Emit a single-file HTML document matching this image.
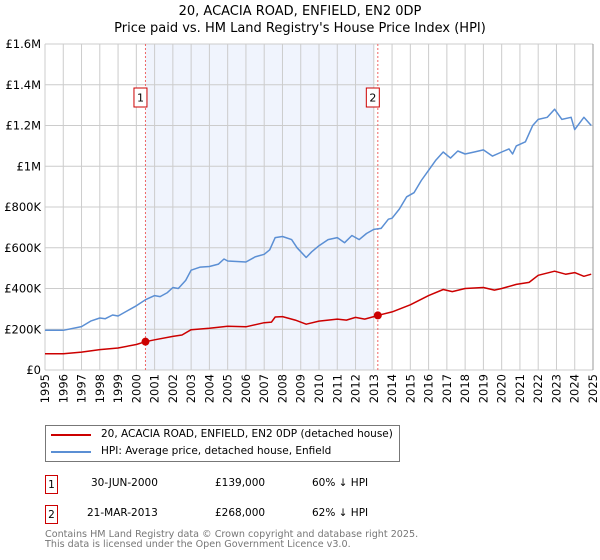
<!DOCTYPE html>
<html><head><meta charset="utf-8"><style>
body{margin:0;background:#fff;font-family:"DejaVu Sans","Liberation Sans",sans-serif;}
#wrap{position:relative;width:600px;height:560px;overflow:hidden}
.t{position:absolute;font-size:10.5px;color:#000;white-space:nowrap}
.box{position:absolute;border:1px solid #c00;width:13px;height:19px;font-size:10.5px;text-align:center;line-height:19px;box-sizing:border-box}
</style></head><body>
<div id="wrap">
<svg id="chart" width="600" height="420" style="position:absolute;left:0;top:0"></svg>
<div style="position:absolute;left:45px;top:425px;width:355px;height:37px;border:1px solid #777;box-sizing:border-box">
  <div style="position:absolute;left:5px;top:8px;width:40px;height:2px;background:#c00"></div>
  <div class="t" style="left:55px;top:2px">20, ACACIA ROAD, ENFIELD, EN2 0DP (detached house)</div>
  <div style="position:absolute;left:5px;top:25px;width:40px;height:2px;background:#5b8fd4"></div>
  <div class="t" style="left:55px;top:19px">HPI: Average price, detached house, Enfield</div>
</div>
<div class="box" style="left:45px;top:475px">1</div>
<div class="t" style="left:91px;top:477px">30-JUN-2000</div>
<div class="t" style="left:215px;top:477px">£139,000</div>
<div class="t" style="left:312px;top:477px">60% ↓ HPI</div>
<div class="box" style="left:45px;top:505px">2</div>
<div class="t" style="left:87px;top:507px">21-MAR-2013</div>
<div class="t" style="left:215px;top:507px">£268,000</div>
<div class="t" style="left:312px;top:507px">62% ↓ HPI</div>
<div class="t" style="left:45px;top:530px;color:#777;font-size:9.6px;line-height:10px">Contains HM Land Registry data © Crown copyright and database right 2025.<br>This data is licensed under the Open Government Licence v3.0.</div>
</div>
<script>
const hpiYears=[1995,1996,1997,1997.5,1998,1998.3,1998.7,1999,1999.5,2000,2000.5,2001,2001.3,2001.7,2002,2002.3,2002.7,2003,2003.5,2004,2004.5,2004.8,2005,2006,2006.5,2007,2007.3,2007.6,2008,2008.5,2008.8,2009.3,2009.6,2010,2010.5,2011,2011.4,2011.8,2012.2,2012.6,2013,2013.4,2013.8,2014,2014.4,2014.8,2015.2,2015.6,2016,2016.4,2016.8,2017.2,2017.6,2018,2018.5,2019,2019.5,2020,2020.4,2020.6,2020.8,2021.3,2021.7,2022,2022.5,2022.9,2023.3,2023.8,2024,2024.5,2024.9];
const hpiValues=[195,195,213,240,255,252,270,265,290,315,345,365,360,380,405,400,440,490,505,508,520,545,535,530,555,568,590,650,655,640,600,552,580,610,640,650,625,660,640,670,690,695,740,745,790,850,870,930,980,1030,1070,1040,1075,1060,1070,1080,1050,1070,1085,1060,1100,1120,1200,1230,1240,1280,1230,1240,1180,1240,1200];
const ppYears=[1995,1996,1997,1998,1999,2000,2000.5,2001,2002,2002.5,2003,2004,2005,2006,2007,2007.4,2007.6,2008,2008.7,2009.3,2010,2011,2011.5,2012,2012.5,2013,2013.22,2014,2015,2016,2016.8,2017.3,2018,2019,2019.6,2020,2020.8,2021.5,2022,2022.9,2023.5,2024,2024.5,2024.9];
const ppValues=[80,80,88,100,108,125,139,148,165,172,198,205,215,212,232,235,260,262,245,225,240,250,245,258,250,262,268,285,320,365,395,385,400,405,392,400,420,430,465,485,470,478,460,470];
const yTicks=[0,200,400,600,800,1000,1200,1400,1600];
const yTickLabels=["£0","£200K","£400K","£600K","£800K","£1M","£1.2M","£1.4M","£1.6M"];
const xYears=[];for(let y=1995;y<=2025;y++)xYears.push(y);
const sales=[{n:"1",year:2000.5,value:139},{n:"2",year:2013.22,value:268}];
const shade=[2000.5,2013.0];

const svg=document.getElementById('chart');const NS='http://www.w3.org/2000/svg';
const L=45,R=593,T=44,B=370;
const xs=y=>L+(y-1995)/30*(R-L);
const ys=v=>B-v/1600*(B-T);
function mk(t,a){const e=document.createElementNS(NS,t);for(const k in a)e.setAttribute(k,a[k]);svg.appendChild(e);return e;}
let e=mk('rect',{x:xs(shade[0]),y:T,width:xs(shade[1])-xs(shade[0]),height:B-T,fill:'#f0f4fd'});


xYears.forEach(y=>{let g=mk('line',{x1:xs(y),x2:xs(y),y1:T,y2:B,stroke:'#ccc','stroke-width':1});


let t=mk('text',{x:0,y:0,transform:`translate(${xs(y)+4},${B+4}) rotate(-90)`,'text-anchor':'end','font-size':11.5,'font-family':'DejaVu Sans, Liberation Sans, sans-serif'});t.textContent=y;

});
yTicks.forEach((v,i)=>{let g=mk('line',{x1:L,x2:R,y1:ys(v),y2:ys(v),stroke:'#ccc','stroke-width':1});


let t=mk('text',{x:L-4,y:ys(v)+4,'text-anchor':'end','font-size':11.5,'font-family':'DejaVu Sans, Liberation Sans, sans-serif'});t.textContent=yTickLabels[i];

});
e=mk('line',{x1:R,x2:R,y1:T,y2:B,stroke:'#999','stroke-width':1});


sales.forEach(s=>{let l=mk('line',{x1:xs(s.year),x2:xs(s.year),y1:T,y2:B,stroke:'#e66','stroke-width':1,'stroke-dasharray':'2,2'});


let r=mk('rect',{x:xs(s.year)-11.5,y:88,width:13,height:19,fill:'#fff',stroke:'#c00','stroke-width':1});


let t=mk('text',{x:xs(s.year)-5,y:101.5,'text-anchor':'middle','font-size':11,'font-family':'DejaVu Sans, sans-serif'});t.textContent=s.n;

});
function path(xv,yv,color,name){let d=xv.map((x,i)=>(i?'L':'M')+xs(x).toFixed(1)+','+ys(yv[i]).toFixed(1)).join('');
let p=mk('path',{d:d,fill:'none',stroke:color,'stroke-width':1.5,'stroke-linejoin':'round'});

}
path(hpiYears,hpiValues,'#5b8fd4','hpi-line');
path(ppYears,ppValues,'#c00','price-paid-line');
sales.forEach(s=>{let c=mk('circle',{cx:xs(s.year),cy:ys(s.value),r:4,fill:'#c00'});

});
e=mk('text',{x:300,y:15,'text-anchor':'middle','font-size':13,'font-family':'DejaVu Sans, sans-serif'});e.textContent='20, ACACIA ROAD, ENFIELD, EN2 0DP';


e=mk('text',{x:300,y:32,'text-anchor':'middle','font-size':13,'font-family':'DejaVu Sans, sans-serif'});e.textContent="Price paid vs. HM Land Registry's House Price Index (HPI)";


</script>
</body></html>
